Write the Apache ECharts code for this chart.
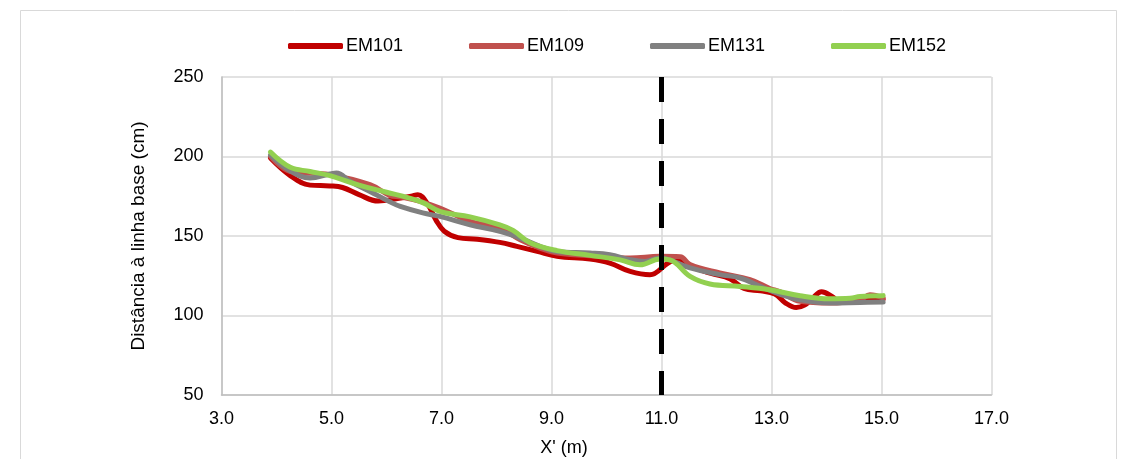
<!DOCTYPE html>
<html>
<head>
<meta charset="utf-8">
<script src="https://cdn.jsdelivr.net/npm/echarts@6/dist/echarts.min.js"></script>
<style>
html,body{margin:0;padding:0;background:#fff;}
#chart{width:1132px;height:459px;}
</style>
</head>
<body>
<div id="chart"></div>
<script>
const seriesNames = ['EM101', 'EM109', 'EM131', 'EM152'];
const xTickLabels = ['3.0', '5.0', '7.0', '9.0', '11.0', '13.0', '15.0', '17.0'];
const yTickLabels = ['50', '100', '150', '200', '250'];
const dividerX = 11.0;

const x101 = [3.89, 4.25, 4.61, 4.97, 5.20, 5.50, 5.85, 6.20, 6.45, 6.57, 6.75, 6.90, 7.05, 7.30, 7.65, 8.06, 8.37, 8.74, 9.10, 9.70, 10.06, 10.43, 10.79, 11.12, 11.30, 11.60, 11.90, 12.25, 12.50, 12.80, 13.06, 13.25, 13.45, 13.60, 13.75, 13.91, 14.10, 14.25, 14.50, 14.79, 15.03];
const y101 = [199, 188, 182, 181.5, 180.5, 176, 172, 173.5, 175, 176, 170, 160, 153, 149, 148, 146, 143.5, 140.3, 137.2, 135.5, 133, 127.7, 125.6, 133, 135.5, 130, 126.5, 123, 117, 115.5, 113.5, 108, 105, 106.5, 111, 115, 112, 108.5, 109, 111, 110];

const x109 = [3.89, 4.25, 4.97, 5.70, 6.06, 6.25, 6.61, 6.97, 7.52, 8.06, 8.43, 8.79, 9.10, 9.88, 10.43, 10.97, 11.34, 11.52, 12.06, 12.61, 12.97, 13.15, 13.52, 14.06, 14.61, 14.79, 15.03];
const y109 = [200, 190.6, 188.6, 182.3, 175.5, 174.5, 171.8, 167.6, 159.2, 155, 147.7, 142.4, 139.3, 137.2, 136.2, 137.2, 137, 132, 126.7, 122.5, 117, 115, 108.9, 107.8, 109.9, 113, 111];

const x131 = [3.89, 4.25, 4.61, 4.97, 5.09, 5.34, 5.70, 6.06, 6.25, 6.66, 6.97, 7.52, 8.06, 8.43, 8.79, 9.10, 9.70, 10.06, 10.43, 10.70, 10.97, 11.15, 11.52, 12.06, 12.43, 12.79, 13.15, 13.52, 14.06, 14.61, 15.03];
const y131 = [201, 191, 186.5, 189, 189.6, 184.3, 178, 171.5, 168.6, 164.5, 162.3, 157.1, 152.9, 148.7, 143.5, 140.3, 139.3, 138.2, 135.1, 134, 136.2, 135, 129.9, 125.7, 123.6, 118.3, 113.5, 109.9, 107.8, 108.2, 108.5];

const x152 = [3.89, 4.25, 4.61, 4.97, 5.50, 6.00, 6.40, 6.66, 6.97, 7.52, 8.06, 8.30, 8.61, 9.10, 9.70, 10.25, 10.61, 10.97, 11.15, 11.52, 11.88, 12.43, 12.97, 13.52, 14.06, 14.43, 14.61, 15.03];
const y152 = [202.8, 193.2, 190.6, 188, 182, 177.5, 174, 171, 165.5, 162, 157, 153.5, 145.8, 140.8, 137.8, 135, 131.9, 135.5, 135, 124.6, 119.8, 118.3, 116.2, 112.4, 110.5, 110.8, 112, 112.5];

const xs = [x101, x109, x131, x152];
const ys = [y101, y109, y131, y152];
const colors = ['#C00000', '#C0504D', '#808080', '#92D050'];
const legendLefts = [288, 469, 650, 831];

const FONT = "'Liberation Sans', Arial, sans-serif";

const chart = echarts.init(document.getElementById('chart'), null, {renderer: 'canvas'});

const series = seriesNames.map((name, i) => ({
  name: name,
  type: 'line',
  data: xs[i].map((x, k) => [x, ys[i][k]]),
  smooth: 0.4,
  showSymbol: false,
  symbol: 'none',
  lineStyle: {color: colors[i], width: 5, cap: 'round', join: 'round'},
  itemStyle: {color: colors[i]},
  emphasis: {disabled: true},
  z: 2 + i
}));

series.push({
  name: 'divider',
  type: 'line',
  data: [[dividerX, 250], [dividerX, 50]],
  symbol: 'none',
  lineStyle: {color: '#000000', width: 5, type: [25, 17]},
  emphasis: {disabled: true},
  silent: true,
  z: 10
});

const legends = seriesNames.map((name, i) => ({
  data: [name],
  left: legendLefts[i],
  top: 36,
  icon: 'roundRect',
  itemWidth: 55,
  itemHeight: 6,
  itemGap: 0,
  padding: 0,
  selectedMode: false,
  textStyle: {fontFamily: FONT, fontSize: 18, color: '#000', padding: [0, 0, 0, -2], lineHeight: 20}
}));

const option = {
  animation: false,
  backgroundColor: '#ffffff',
  legend: legends,
  grid: {left: 221.5, right: 140.5, top: 77, bottom: 64, containLabel: false},
  xAxis: {
    type: 'value',
    min: 3, max: 17, interval: 2,
    axisLine: {show: true, lineStyle: {color: '#BFBFBF', width: 1.5}},
    axisTick: {show: false},
    splitLine: {show: true, lineStyle: {color: '#D9D9D9', width: 1.5}},
    axisLabel: {
      margin: 15,
      fontFamily: FONT, fontSize: 18, color: '#000',
      formatter: (v) => xTickLabels[Math.round((v - 3) / 2)]
    }
  },
  yAxis: {
    type: 'value',
    min: 50, max: 250, interval: 50,
    name: 'Distância à linha base (cm)',
    nameLocation: 'middle',
    nameGap: 73,
    nameTextStyle: {fontFamily: FONT, fontSize: 19, color: '#000'},
    axisLine: {show: true, lineStyle: {color: '#BFBFBF', width: 1.5}},
    axisTick: {show: false},
    splitLine: {show: true, lineStyle: {color: '#D9D9D9', width: 1.5}},
    axisLabel: {
      margin: 18,
      fontFamily: FONT, fontSize: 18, color: '#000',
      formatter: (v) => yTickLabels[Math.round((v - 50) / 50)]
    }
  },
  graphic: [
    {
      type: 'rect',
      shape: {x: 20.5, y: 10.5, width: 1096, height: 470},
      style: {fill: 'none', stroke: '#D9D9D9', lineWidth: 1},
      silent: true, z: -1
    },
    {
      type: 'text',
      x: 564, y: 448,
      style: {text: "X' (m)", fontFamily: FONT, fontSize: 18, fill: '#000', align: 'center', verticalAlign: 'middle'},
      silent: true
    }
  ],
  series: series
};

chart.setOption(option);
</script>
</body>
</html>
